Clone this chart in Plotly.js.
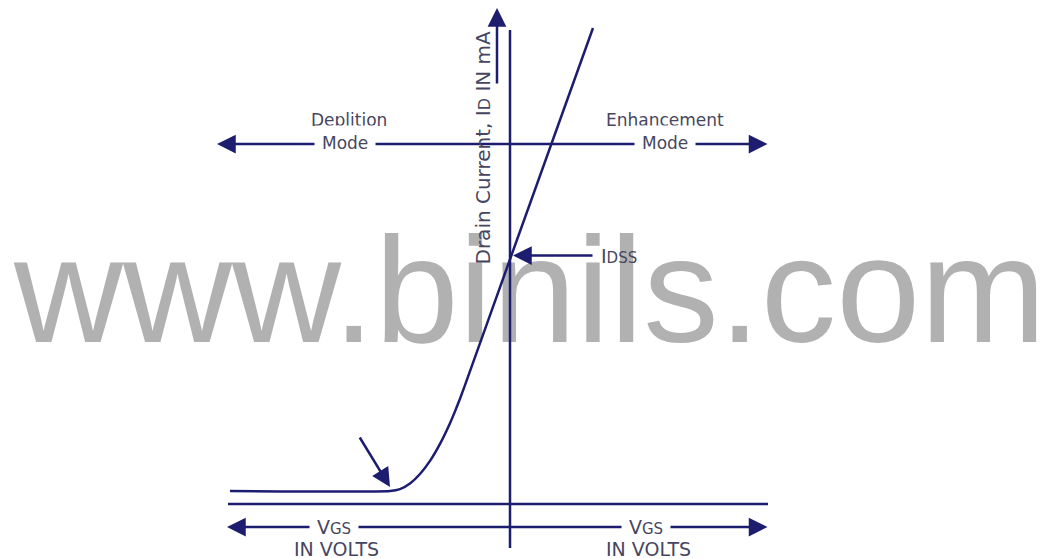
<!DOCTYPE html>
<html>
<head>
<meta charset="utf-8">
<script src="https://cdn.plot.ly/plotly-3.0.1.min.js"></script>
<style>html,body{margin:0;padding:0;background:#fff;}#chart{width:1049px;height:559px;}</style>
</head>
<body>
<div id="chart"></div>
<script>
// Transfer characteristic curve (VGS vs ID), diagram units (origin at axis crossing)
const vgsCurve = [-28, -12, -11, -10, -9, -8, -7, -6, -5.5, -5, -4.59, 0.1, 8.3];
const idCurve  = [1.3, 1.3, 1.49, 2.05, 3.0, 4.31, 6.01, 8.08, 9.26, 10.53, 11.64, 24.75, 47.6];

// Axes lines
const vgsAxisX = [-28.2, 25.8];
const vgsAxisY = [0, 0];
const idAxisX = [0, 0];
const idAxisY = [-4.4, 47.4];

// Arrows: [tail, tip]
const modeArrowX = [26.2, -29.3];
const modeArrowY = [36, 36];
const vgsArrowX = [26.2, -28.3];
const vgsArrowY = [-2.3, -2.3];
const drainArrowX = [-1.3, -1.3];
const drainArrowY = [41.6, 49.6];
const idssArrowX = [10.9, 0.3];   // tail at label centre
const idssArrowY = [24.85, 24.85];
const kneeArrowX = [-15.3, -12.0];
const kneeArrowY = [7.1, 1.7];

// Labels
const modeLabels = ['Deplition', 'Mode', 'Enhancement', 'Mode'];
const modeLabelX = [-16.1, -16.5, 15.5, 15.5];
const modeLabelY = [38.4, 36.1, 38.4, 36.1];
const vgsLabels = ['V<span style="font-size:15px">GS</span>', 'IN VOLTS', 'V<span style="font-size:15px">GS</span>', 'IN VOLTS'];
const vgsLabelX = [-17.6, -17.4, 13.6, 13.8];
const vgsLabelY = [-2.3, -4.5, -2.3, -4.5];
const idssLabel = 'I<span style="font-size:15px">DSS</span>';
const drainLabel = 'Drain Current, I<span style="font-size:16px">D</span> IN mA';
const drainLabelX = -2.8, drainLabelY = 35.65;
const watermark = 'www.binils.com';
const watermarkX = [2.0], watermarkY = [20.0];

const navy = '#1d1d70';
const txt = '#464660';
const lw = 2.5;

const traces = [
  {x: watermarkX, y: watermarkY, mode: 'text', text: [watermark], textposition: 'middle center',
   textfont: {family: 'Liberation Sans, Arial, sans-serif', size: 151, color: '#b1b1b1'}, hoverinfo: 'skip'},
  {x: vgsAxisX, y: vgsAxisY, mode: 'lines', line: {color: navy, width: lw}, hoverinfo: 'skip'},
  {x: idAxisX, y: idAxisY, mode: 'lines', line: {color: navy, width: lw}, hoverinfo: 'skip'},
  {x: vgsCurve, y: idCurve, mode: 'lines', line: {color: navy, width: lw, shape: 'spline', smoothing: 0.6}, hoverinfo: 'skip'}
];

function arrow(xs, ys, side, text, font, pad) {
  return {x: xs[1], y: ys[1], ax: xs[0], ay: ys[0], xref: 'x', yref: 'y', axref: 'x', ayref: 'y',
    text: text || '', font: font, borderpad: pad || 4, showarrow: true, arrowhead: 2, arrowsize: 1.5, arrowwidth: lw, arrowcolor: navy,
    standoff: 0, startstandoff: 0, arrowside: side || 'end', startarrowhead: 2, startarrowsize: 1.5};
}

const bigFont = {family: 'DejaVu Sans, Verdana, sans-serif', size: 19, color: txt};
const annotations = [
  arrow(modeArrowX, modeArrowY, 'end+start'),
  arrow(vgsArrowX, vgsArrowY, 'end+start'),
  arrow(drainArrowX, drainArrowY),
  arrow(idssArrowX, idssArrowY, 'end', idssLabel, bigFont, 8),
  arrow(kneeArrowX, kneeArrowY)
];
const labelFont = {family: 'DejaVu Sans, Verdana, sans-serif', size: 17, color: txt};
modeLabels.forEach((t, i) => annotations.push({x: modeLabelX[i], y: modeLabelY[i], xref: 'x', yref: 'y',
  text: t, showarrow: false, font: labelFont, bgcolor: i % 2 ? '#ffffff' : 'rgba(0,0,0,0)', borderpad: 7}));
vgsLabels.forEach((t, i) => annotations.push({x: vgsLabelX[i], y: vgsLabelY[i], xref: 'x', yref: 'y',
  text: t, showarrow: false, font: bigFont,
  bgcolor: i % 2 ? 'rgba(0,0,0,0)' : '#ffffff', borderpad: 7}));
annotations.push({x: drainLabelX, y: drainLabelY, xref: 'x', yref: 'y', text: drainLabel, textangle: -90,
  showarrow: false, font: {family: 'DejaVu Sans, Verdana, sans-serif', size: 20, color: txt}});

const layout = {
  width: 1049, height: 559,
  margin: {l: 0, r: 0, t: 0, b: 0},
  paper_bgcolor: '#ffffff', plot_bgcolor: '#ffffff',
  showlegend: false,
  xaxis: {range: [-51, 53.9], visible: false, fixedrange: true},
  yaxis: {range: [-5.5, 50.4], visible: false, fixedrange: true},
  annotations: annotations
};
Plotly.newPlot('chart', traces, layout, {displayModeBar: false, staticPlot: true});
</script>
</body>
</html>
